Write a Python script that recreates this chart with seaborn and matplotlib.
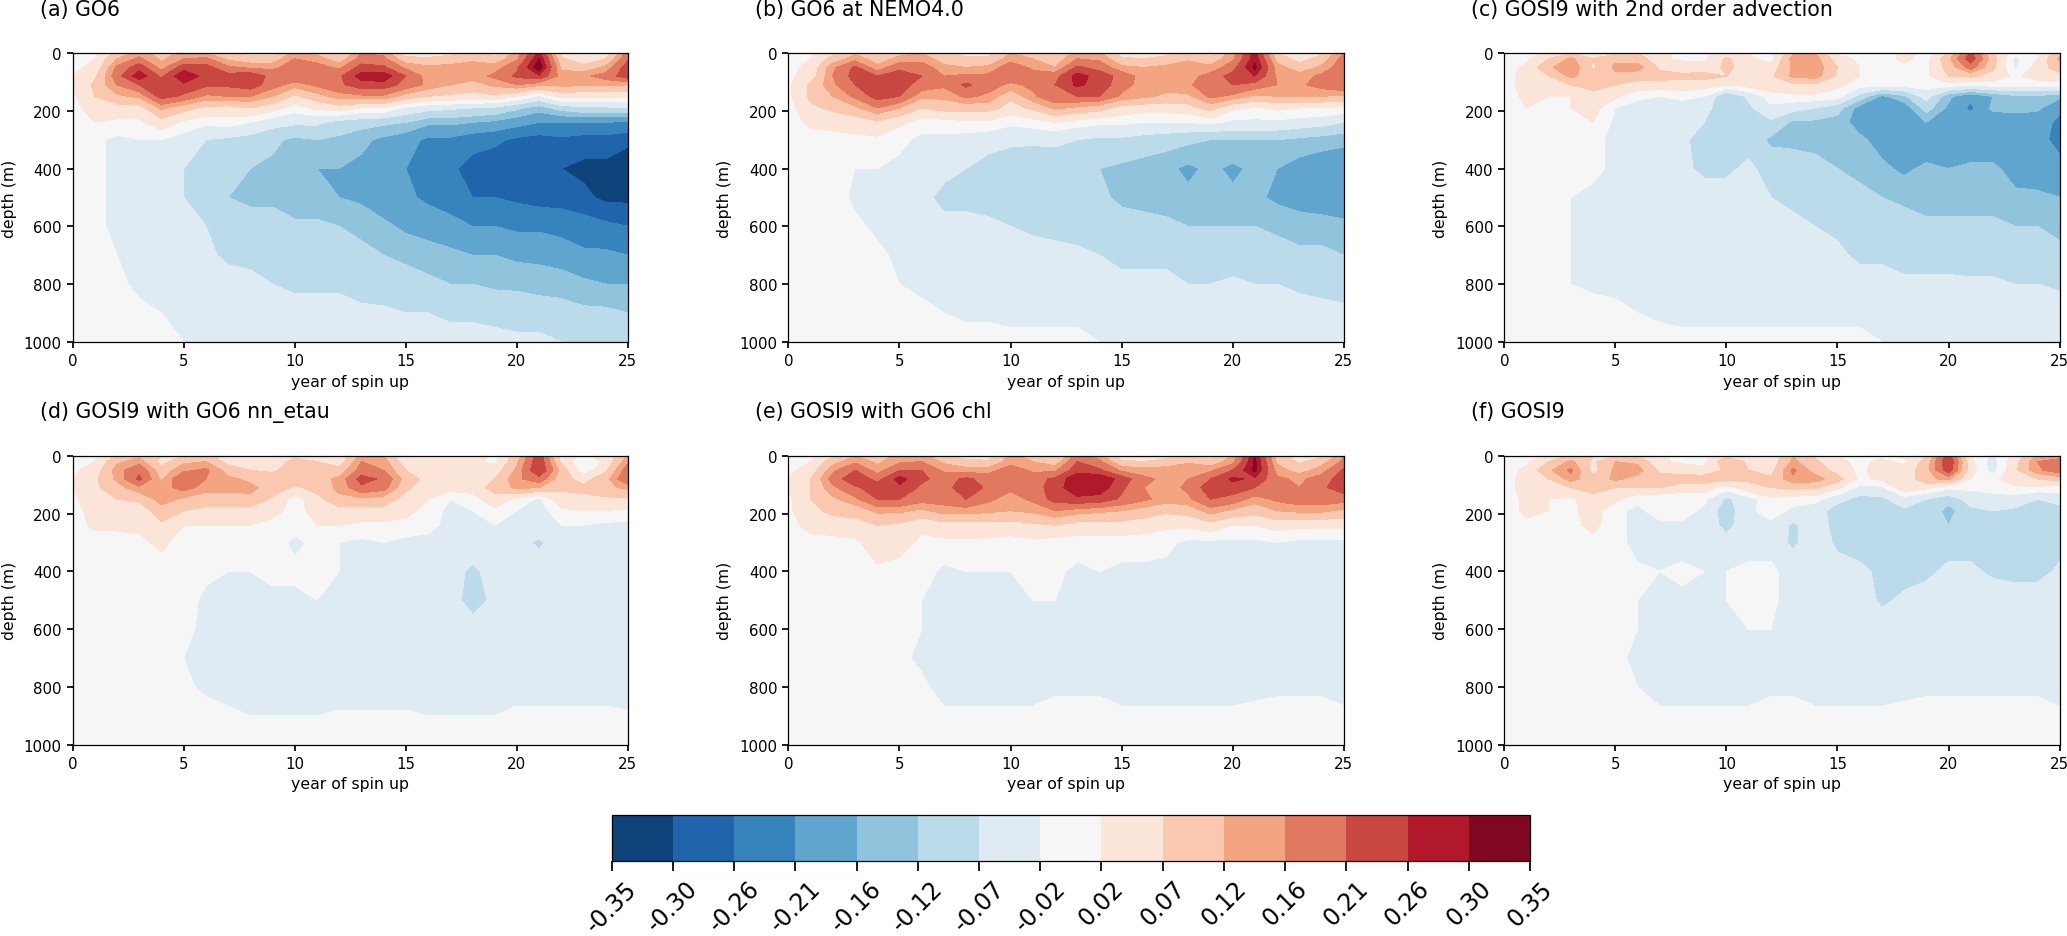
import numpy as np
import matplotlib
matplotlib.use("Agg")
import matplotlib.pyplot as plt
import seaborn as sns

# temperature drift, values in hundredths of a degree
years = list(range(26))
depths = [0, 20, 50, 80, 110, 150, 190, 240, 300, 400, 500, 600, 700, 800, 900, 1000]
levels = [-0.35, -0.30, -0.26, -0.21, -0.16, -0.12, -0.07, -0.02, 0.02, 0.07, 0.12, 0.16, 0.21, 0.26, 0.30, 0.35]
level_labels = ['-0.35', '-0.30', '-0.26', '-0.21', '-0.16', '-0.12', '-0.07', '-0.02',
                '0.02', '0.07', '0.12', '0.16', '0.21', '0.26', '0.30', '0.35']
titles = ['(a) GO6', '(b) GO6 at NEMO4.0', '(c) GOSI9 with 2nd order advection',
          '(d) GOSI9 with GO6 nn_etau', '(e) GOSI9 with GO6 chl', '(f) GOSI9']

go6 = [
    [0, 1, 8, 14, 10, 13, 12, 8, 5, 5, 14, 11, 6, 16, 15, 4, 3, 5, 9, 5, 14, 27, 5, 1, 3, 18],
    [0, 2, 12, 17, 11, 16, 17, 11, 9, 9, 16, 14, 9, 18, 17, 9, 8, 10, 11, 9, 15, 30, 8, 3, 7, 20],
    [1, 3, 17, 24, 14, 24, 23, 17, 15, 15, 18, 18, 15, 23, 22, 15, 13, 13, 14, 14, 20, 33, 11, 9, 13, 24],
    [2, 6, 19, 29, 20, 30, 24, 23, 25, 19, 20, 20, 20, 28, 29, 21, 14, 14, 14, 17, 22, 25, 14, 15, 18, 24],
    [2, 8, 16, 21, 24, 25, 22, 22, 24, 18, 14, 17, 20, 24, 24, 19, 15, 12, 10, 13, 16, 13, 13, 13, 13, 12],
    [1, 7, 11, 13, 23, 20, 15, 16, 16, 12, 6, 10, 14, 15, 15, 10, 7, 6, 5, 6, 2, -3, 4, 3, 3, 3],
    [0, 5, 5, 5, 13, 9, 6, 5, 7, 4, 0, 3, 5, 2, 2, -3, -5, -6, -7, -8, -11, -14, -10, -8, -8, -7],
    [0, 2, 1, 1, 5, 1, -1, 0, -2, -5, -6, -6, -9, -10, -11, -12, -15, -15, -16, -17, -19, -21, -21, -21, -21, -22],
    [0, -1, -3, -2, -2, -4, -7, -8, -9, -11, -13, -12, -13, -15, -17, -19, -22, -22, -24, -25, -27, -28, -27, -28, -28, -29],
    [0, -1, -3, -3, -4, -7, -8, -10, -12, -13, -16, -16, -16, -17, -19, -21, -23, -25, -28, -29, -29, -29, -30, -31, -31, -33],
    [0, -1, -3, -4, -5, -7, -9, -12, -13, -13, -15, -15, -16, -17, -19, -20, -22, -24, -26, -26, -27, -28, -28, -29, -31, -31],
    [0, -1, -3, -4, -5, -6, -7, -9, -10, -10, -11, -11, -12, -13, -15, -17, -18, -19, -21, -21, -22, -22, -23, -24, -25, -26],
    [0, 0, -2, -3, -4, -5, -6, -8, -8, -9, -9, -10, -10, -11, -12, -13, -14, -15, -16, -16, -17, -17, -18, -20, -20, -21],
    [0, 0, -1, -3, -3, -4, -5, -5, -6, -7, -8, -8, -8, -9, -10, -10, -11, -12, -12, -13, -13, -14, -14, -15, -16, -16],
    [0, 0, 0, -1, -2, -3, -3, -4, -4, -5, -5, -5, -5, -6, -6, -7, -7, -8, -8, -8, -9, -9, -10, -11, -11, -12],
    [0, 0, 0, 0, -1, -2, -3, -3, -3, -3, -3, -4, -4, -4, -4, -5, -5, -5, -5, -6, -6, -6, -7, -8, -8, -9],
]

go6_nemo4 = [
    [0, 1, 6, 11, 8, 11, 12, 8, 5, 5, 12, 10, 6, 14, 13, 4, 3, 5, 9, 5, 14, 28, 7, 2, 6, 16],
    [0, 2, 9, 14, 10, 13, 14, 10, 8, 8, 14, 12, 9, 16, 15, 8, 7, 9, 11, 9, 15, 29, 10, 5, 9, 18],
    [1, 3, 15, 22, 13, 20, 19, 13, 12, 13, 19, 15, 12, 22, 19, 13, 12, 13, 15, 13, 19, 31, 14, 9, 13, 19],
    [1, 4, 16, 23, 21, 23, 21, 16, 17, 17, 19, 18, 19, 28, 24, 19, 14, 14, 14, 18, 23, 26, 15, 14, 17, 21],
    [1, 8, 15, 21, 24, 23, 19, 17, 22, 18, 15, 17, 21, 27, 24, 18, 14, 14, 15, 20, 21, 19, 16, 15, 18, 21],
    [1, 8, 12, 17, 23, 21, 13, 13, 17, 15, 8, 15, 20, 21, 21, 15, 13, 11, 11, 17, 15, 11, 12, 12, 12, 11],
    [0, 6, 8, 11, 16, 12, 7, 9, 9, 9, 5, 8, 13, 11, 9, 5, 4, 4, 5, 9, 3, 1, 3, 2, 2, 1],
    [0, 3, 4, 4, 6, 3, 0, 0, 1, 1, -1, 0, 2, 0, -1, -1, -2, -2, -2, -1, -3, -3, -3, -4, -5, -7],
    [0, 0, 0, 1, 1, -1, -3, -3, -4, -5, -6, -6, -6, -7, -8, -8, -9, -10, -11, -12, -12, -12, -12, -13, -14, -15],
    [0, 0, 0, -2, -2, -3, -4, -6, -7, -9, -10, -11, -10, -11, -12, -13, -14, -15, -17, -15, -17, -15, -16, -18, -19, -19],
    [0, 0, 0, -3, -3, -4, -6, -8, -8, -9, -10, -10, -10, -10, -11, -13, -13, -14, -15, -15, -15, -15, -17, -18, -19, -19],
    [0, 0, 0, -1, -3, -3, -4, -6, -6, -6, -7, -8, -8, -9, -9, -10, -11, -11, -12, -12, -12, -12, -13, -14, -14, -15],
    [0, 0, 0, 0, -1, -3, -3, -4, -4, -5, -5, -5, -6, -6, -7, -8, -8, -8, -9, -9, -10, -10, -10, -11, -11, -12],
    [0, 0, 0, 0, 0, -2, -3, -3, -3, -4, -4, -4, -5, -5, -6, -6, -6, -6, -7, -7, -6, -7, -7, -8, -8, -9],
    [0, 0, 0, 0, 0, 0, -1, -2, -3, -3, -3, -3, -3, -3, -4, -4, -4, -4, -5, -5, -5, -5, -5, -5, -6, -6],
    [0, 0, 0, 0, 0, 0, 0, 0, 0, 0, -1, -1, -1, -1, -2, -3, -3, -3, -3, -3, -3, -4, -4, -4, -4, -4],
]

gosi9_2nd = [
    [0, 0, 3, 7, 7, 6, 7, 3, 1, 1, 4, 2, 1, 11, 12, 1, 0, -2, 4, 0, 7, 22, 8, -1, 1, 10],
    [0, 1, 7, 13, 7, 11, 10, 3, 1, 1, 8, 3, 0, 14, 14, 4, 1, 0, 3, 0, 11, 24, 9, -3, 2, 13],
    [0, 3, 11, 16, 6, 13, 14, 6, 5, 4, 8, 5, 4, 13, 15, 7, 2, 1, 1, 1, 9, 18, 8, -3, 4, 10],
    [0, 4, 7, 13, 9, 11, 9, 9, 8, 9, 7, 6, 6, 13, 14, 6, 2, 0, 0, 1, 7, 8, 5, 1, 4, 5],
    [0, 4, 4, 7, 8, 7, 5, 5, 5, 4, 2, 4, 5, 6, 6, 3, 0, 0, 0, 0, 0, -1, 0, 0, 0, 0],
    [0, 3, 2, 2, 6, 3, -1, -2, -1, -2, -12, -6, 0, 1, 1, 0, -9, -17, -13, -5, -15, -20, -16, -13, -13, -15],
    [0, 2, 2, 2, 4, -2, -4, -4, -4, -5, -11, -8, -3, -5, -7, -10, -18, -20, -19, -10, -17, -22, -15, -15, -15, -20],
    [0, 0, 0, 0, 2, -3, -4, -5, -6, -7, -9, -9, -8, -13, -13, -14, -18, -20, -18, -16, -19, -19, -19, -18, -19, -22],
    [0, 0, 0, 0, -1, -3, -6, -5, -6, -9, -10, -9, -13, -13, -13, -14, -15, -18, -19, -20, -20, -20, -20, -19, -20, -22],
    [0, 0, 0, 0, -1, -3, -4, -5, -6, -8, -8, -6, -9, -10, -11, -12, -13, -15, -17, -15, -16, -15, -15, -18, -19, -20],
    [0, 0, 0, -2, -3, -3, -4, -4, -5, -5, -5, -6, -7, -8, -9, -10, -11, -12, -13, -14, -14, -14, -14, -15, -15, -16],
    [0, 0, 0, -2, -3, -3, -3, -4, -4, -4, -5, -5, -5, -6, -7, -8, -9, -9, -10, -11, -11, -11, -11, -12, -12, -13],
    [0, 0, 0, -2, -3, -3, -3, -3, -3, -4, -4, -4, -4, -5, -6, -6, -8, -8, -9, -9, -9, -10, -10, -10, -11, -11],
    [0, 0, 0, -2, -3, -3, -3, -3, -3, -3, -3, -3, -4, -4, -4, -4, -5, -5, -6, -6, -6, -6, -6, -7, -7, -8],
    [0, 0, 0, 0, 0, -1, -2, -3, -3, -3, -3, -3, -3, -3, -3, -3, -3, -3, -3, -3, -3, -3, -3, -3, -4, -4],
    [0, 0, 0, 0, 0, 0, 0, 0, -1, -1, -1, -1, -1, -1, -1, -1, -1, -2, -2, -2, -2, -2, -2, -2, -2, -3],
]

gosi9_nn_etau = [
    [0, 1, 8, 11, 7, 7, 9, 4, 2, 2, 6, 5, 3, 14, 12, 2, 1, 3, 5, 1, 9, 24, 5, 1, 4, 12],
    [0, 2, 11, 14, 5, 11, 12, 5, 3, 3, 9, 7, 4, 16, 14, 4, 3, 4, 3, 1, 11, 25, 6, -2, 3, 15],
    [1, 4, 14, 20, 9, 15, 17, 10, 7, 6, 10, 9, 9, 18, 16, 7, 5, 5, 4, 4, 13, 26, 10, -1, 6, 19],
    [2, 6, 13, 22, 11, 21, 16, 13, 11, 10, 10, 10, 13, 23, 20, 10, 5, 5, 4, 7, 15, 19, 9, 5, 10, 21],
    [2, 6, 10, 15, 14, 18, 14, 14, 13, 10, 6, 9, 13, 20, 18, 8, 4, 4, 4, 9, 13, 12, 8, 8, 11, 13],
    [1, 5, 7, 8, 14, 11, 9, 9, 11, 6, 0, 5, 11, 11, 10, 5, 2, -2, 0, 5, 1, -3, 5, 6, 6, 6],
    [0, 4, 4, 4, 10, 7, 6, 6, 5, 3, 1, 3, 5, 5, 5, 4, 0, -3, -2, 1, -2, -4, 1, 2, 2, 1],
    [0, 3, 3, 3, 6, 2, 2, 2, 2, 1, 0, 2, 2, 1, 1, 0, -1, -3, -3, -2, -3, -3, -2, -2, -3, -3],
    [0, 0, 0, 1, 3, 0, 0, 0, 0, 0, -3, -1, -2, -3, -2, -3, -3, -4, -4, -4, -5, -8, -4, -4, -4, -4],
    [0, 0, 0, 0, 0, 0, -1, -2, -2, -1, -1, -1, -2, -3, -4, -4, -4, -5, -8, -5, -4, -4, -4, -4, -4, -4],
    [0, 0, 0, 0, 0, 0, -3, -3, -3, -3, -3, -2, -3, -4, -4, -4, -4, -5, -9, -6, -4, -4, -4, -4, -4, -4],
    [0, 0, 0, 0, 0, -1, -3, -3, -4, -4, -4, -4, -4, -4, -4, -4, -4, -4, -5, -5, -4, -4, -4, -4, -4, -4],
    [0, 0, 0, 0, 0, -2, -3, -3, -4, -4, -4, -4, -4, -4, -4, -4, -4, -4, -4, -4, -4, -4, -4, -4, -4, -4],
    [0, 0, 0, 0, 0, -1, -3, -4, -4, -4, -4, -4, -4, -4, -4, -4, -4, -4, -4, -4, -4, -4, -4, -4, -4, -4],
    [0, 0, 0, 0, 0, 0, 0, -1, -2, -2, -2, -2, -1.5, -1.5, -1.5, -1.5, -2, -2, -2, -2, -1, -1, -1, -1, -1, -1.5],
    [0, 0, 0, 0, 0, 0, 0, 0, 0, 0, 0, 0, 0, 0, 0, 0, 0, 0, 0, 0, 0, 0, 0, 0, 0, 0],
]

gosi9_chl = [
    [0, 1, 6, 12, 10, 13, 14, 8, 5, 4, 14, 9, 6, 18, 14, 4, 3, 5, 8, 5, 13, 30, 10, 4, 6, 16],
    [0, 2, 10, 15, 11, 15, 16, 11, 8, 8, 14, 12, 9, 21, 17, 8, 7, 9, 11, 9, 14, 31, 11, 6, 10, 17],
    [1, 4, 15, 21, 14, 21, 21, 15, 14, 14, 19, 15, 15, 24, 22, 15, 14, 14, 16, 15, 21, 31, 14, 10, 14, 22],
    [2, 7, 18, 25, 19, 28, 22, 19, 22, 19, 19, 19, 22, 30, 30, 24, 17, 15, 16, 21, 27, 25, 17, 15, 18, 24],
    [2, 7, 15, 20, 24, 25, 20, 19, 24, 20, 17, 18, 24, 29, 29, 22, 16, 14, 17, 24, 24, 21, 17, 16, 20, 24],
    [1, 7, 11, 15, 21, 21, 18, 18, 21, 17, 14, 17, 23, 25, 24, 20, 17, 14, 15, 21, 19, 14, 17, 19, 19, 18],
    [1, 6, 8, 9, 13, 13, 11, 14, 14, 13, 12, 13, 16, 14, 13, 12, 10, 8, 9, 14, 11, 9, 12, 13, 13, 11],
    [0, 4, 5, 5, 7, 6, 3, 5, 5, 5, 5, 6, 7, 5, 5, 5, 4, 3, 3, 5, 2, 2, 4, 3, 3, 3],
    [0, 0, 0, 1, 5, 4, 1, 1, 1, 1, 0, 1, 0, 0, 0, 0, 0, -1, -3, -3, -3, -3, -2, -3, -3, -3],
    [0, 0, 0, 0, 1, 0, 0, -3, -2, -2, -2, -1, -1, -3, -2, -3, -3, -3, -3, -3, -3, -3, -3, -3, -3, -3],
    [0, 0, 0, 0, 0, 0, -2, -3, -3, -3, -3, -2, -2, -4, -3, -3, -3, -3, -3, -3, -3, -3, -3, -3, -3, -3],
    [0, 0, 0, 0, 0, 0, -2, -3, -3, -3, -3, -3, -3, -4, -4, -4, -4, -4, -4, -4, -4, -4, -4, -4, -4, -4],
    [0, 0, 0, 0, 0, -1, -3, -4, -4, -4, -4, -4, -4, -4, -4, -4, -4, -4, -4, -4, -4, -4, -4, -4, -4, -4],
    [0, 0, 0, 0, 0, 0, -1, -4, -4, -4, -4, -4, -3, -3, -3, -4, -4, -4, -4, -4, -4, -4, -3, -3, -3, -4],
    [0, 0, 0, 0, 0, 0, 0, -1, -1, -1, -1, -1, 0, 0, 0, -1, -1, -1, -1, -1, -1, 0, 0, 0, 0, -1],
    [0, 0, 0, 0, 0, 0, 0, 0, 0, 0, 0, 0, 0, 0, 0, 0, 0, 0, 0, 0, 0, 0, 0, 0, 0, 0],
]

gosi9 = [
    [0, 0, 3, 8, 7, 6, 7, 3, 0, 1, 6, 4, 3, 12, 6, 2, -2, 1, 3, 7, 23, 2, -3, 4, 12, 13],
    [0, 1, 7, 13, 6, 12, 11, 3, 1, 1, 11, 6, 4, 13, 8, 3, 1, 3, 1, 9, 26, 3, -4, 5, 16, 19],
    [0, 3, 11, 17, 5, 13, 14, 6, 5, 3, 8, 7, 5, 17, 10, 5, 1, 4, 4, 10, 24, 4, -4, 6, 15, 19],
    [0, 4, 7, 14, 9, 13, 10, 9, 9, 10, 8, 8, 8, 15, 14, 9, 1, 3, 3, 11, 13, 2, 0, 6, 7, 9],
    [0, 4, 5, 7, 9, 7, 7, 7, 5, 4, 0, 5, 7, 8, 8, 3, -3, -3, 5, 3, -1, -1, 0, 1, 1, 0],
    [0, 3, 2, 1, 5, 3, -1, -2, -2, -1, -8, -4, 1, 0, -1, -5, -9, -8, -4, -7, -10, -5, -4, -4, -7, -5],
    [0, 3, 2, 1, 4, -1, -3, 0, 0, -3, -10, -3, 0, -3, -4, -10, -10, -10, -8, -8, -14, -8, -7, -8, -10, -9],
    [0, 1, 0, 1, 3, 0, -4, -3, -3, -3, -9, -3, -3, -8, -4, -9, -10, -12, -10, -10, -12, -10, -9, -9, -10, -10],
    [0, 0, 0, 0, 1, 0, -4, -3, -4, -4, -5, -4, -4, -8, -4, -8, -9, -10, -9, -9, -9, -9, -9, -9, -9, -9],
    [0, 0, 0, 0, 0, 0, -1, -2, -1, -2, -2, -1, -1, -4, -4, -5, -6, -8, -9, -8, -6, -6, -8, -9, -9, -6],
    [0, 0, 0, 0, 0, 0, -2, -4, -3, -3, -2, -1, -1, -4, -4, -4, -4, -8, -6, -5, -4, -4, -4, -4, -4, -4],
    [0, 0, 0, 0, 0, 0, -2, -4, -4, -4, -3, -2, -2, -4, -4, -4, -4, -4, -4, -4, -4, -4, -4, -4, -4, -4],
    [0, 0, 0, 0, 0, -1, -3, -4, -4, -4, -4, -4, -4, -4, -4, -4, -4, -4, -4, -4, -4, -4, -4, -4, -4, -4],
    [0, 0, 0, 0, 0, 0, -2, -4, -4, -4, -4, -4, -3, -3, -4, -4, -4, -4, -3, -3, -3, -3, -3, -3, -3, -4],
    [0, 0, 0, 0, 0, 0, 0, -1, -1, -1, -1, -1, 0, 0, -1, -1, -1, -1, -1, 0, 0, 0, 0, 0, 0, -1],
    [0, 0, 0, 0, 0, 0, 0, 0, 0, 0, 0, 0, 0, 0, 0, 0, 0, 0, 0, 0, 0, 0, 0, 0, 0, 0],
]

panels = [go6, go6_nemo4, gosi9_2nd, gosi9_nn_etau, gosi9_chl, gosi9]

sns.set_theme(style="ticks", font="DejaVu Sans", rc={
    "axes.edgecolor": "black", "xtick.color": "black", "ytick.color": "black",
    "text.color": "black", "axes.labelcolor": "black", "xtick.major.size": 4,
    "ytick.major.size": 4, "axes.linewidth": 0.9,
})

cmap = sns.color_palette("RdBu_r", as_cmap=True)

W, H = 2067, 937
fig, axes = plt.subplots(2, 3, figsize=(W / 100, H / 100), dpi=100)
fig.subplots_adjust(left=72.6 / W, right=2059.6 / W, top=1 - 54 / H, bottom=1 - 745.7 / H,
                    wspace=160.4 / 555, hspace=114 / 289)

for ax, field, title in zip(axes.flat, panels, titles):
    cs = ax.contourf(years, depths, np.array(field) / 100, levels=levels, cmap=cmap)
    ax.set_ylim(1000, 0)
    ax.set_xlim(0, 25)
    ax.set_xticks([0, 5, 10, 15, 20, 25])
    ax.set_yticks([0, 200, 400, 600, 800, 1000])
    ax.tick_params(labelsize=10.8, pad=4)
    ax.set_xlabel('year of spin up', fontsize=11.3, labelpad=4)
    ax.set_ylabel('depth (m)', fontsize=11.3, labelpad=5)
    ax.text(-33 / 555, 1.133, title, transform=ax.transAxes, fontsize=14.8, ha='left', va='baseline')

cax = fig.add_axes([611.7 / W, 1 - 861.7 / H, 918.3 / W, 45.7 / H])
cbar = fig.colorbar(cs, cax=cax, orientation='horizontal', ticks=levels, spacing='uniform')
cbar.ax.set_xticklabels(level_labels, rotation=45, fontsize=17)
cbar.ax.tick_params(length=7, pad=4)

plt.savefig('out.png', dpi=100)
